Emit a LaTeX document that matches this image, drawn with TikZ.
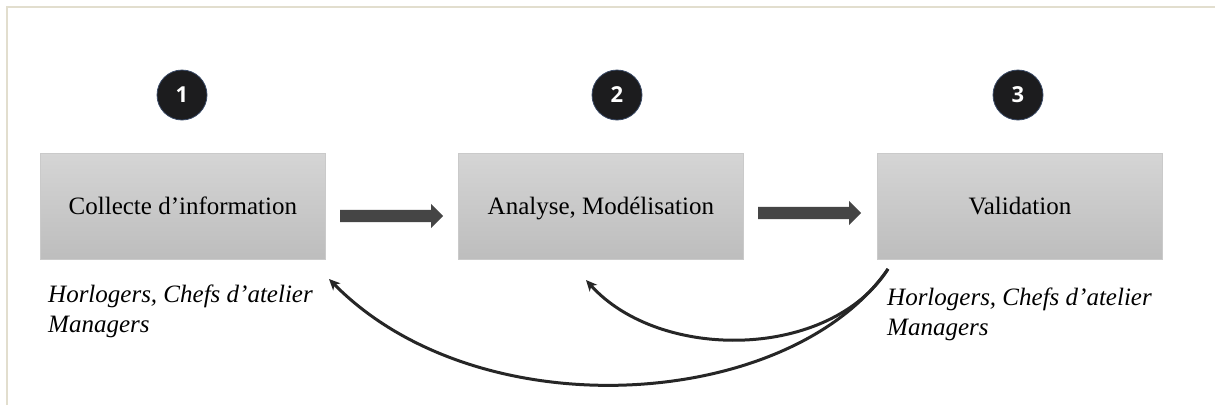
\documentclass[tikz,border=0pt]{standalone}
\usepackage{fontspec}
\setmainfont{Liberation Serif}
\newfontfamily\numfont{Open Sans}
\usetikzlibrary{arrows.meta,shapes.arrows}
\definecolor{framec}{HTML}{E2DECE}
\definecolor{boxtop}{HTML}{D5D5D5}
\definecolor{boxbot}{HTML}{BDBDBD}
\definecolor{boxline}{HTML}{CACACA}
\definecolor{arrowc}{HTML}{454545}
\definecolor{circfill}{HTML}{1C1C1E}
\definecolor{circline}{HTML}{3A4A66}
\tikzset{
  stepbox/.style={draw=boxline, line width=0.8pt, top color=boxtop, bottom color=boxbot,
    minimum width=285pt, minimum height=106pt, inner sep=0pt, anchor=north west,
    text height=21pt, text depth=5pt,
    font=\fontsize{25}{30}\selectfont},
  numcirc/.style={circle, fill=circfill, draw=circline, line width=0.8pt, minimum size=50pt,
    inner sep=0pt, text=white, font=\numfont\bfseries\fontsize{22}{26}\selectfont},
  who/.style={align=left, inner sep=0pt, anchor=base west,
    font=\itshape\fontsize{25}{30}\selectfont},
  flowarrow/.style={single arrow, fill=arrowc, draw=none, minimum height=103pt,
    text height=0pt, text depth=0pt, inner xsep=0pt, inner ysep=6pt,
    single arrow head extend=6pt, single arrow tip angle=90, shape border rotate=0},
  back/.style={line width=3pt, draw=black!85, -{Stealth[length=11pt,width=10pt,inset=3pt]}}
}
\begin{document}
\begin{tikzpicture}[x=1pt,y=-1pt]
\useasboundingbox (0,0) rectangle (1215,405);
\fill[white] (0,0) rectangle (1215,405);
\draw[framec, line width=2pt] (7,405) -- (7,7) -- (1215,7);

\node[stepbox] (b1) at (40,153) {Collecte d’information};
\node[stepbox] (b2) at (458,153) {Analyse, Modélisation};
\node[stepbox] (b3) at (877,153) {Validation};

\node[numcirc] (n1) at (182,95) {1};
\node[numcirc] (n2) at (617,95) {2};
\node[numcirc] (n3) at (1018,95) {3};

\node[flowarrow, anchor=west] (a1) at (340,216) {};
\node[flowarrow, anchor=west] (a2) at (758,213) {};

\node[who] (t1) at (48,332) {Horlogers, Chefs d’atelier\\Managers};
\node[who] (t3) at (887,335) {Horlogers, Chefs d’atelier\\Managers};

\coordinate (s) at (888,269);
\coordinate (e1) at (329,279);
\coordinate (e2) at (586,280);
\draw[back] (s) .. controls (830,360) and (660,362) .. (e2);
\draw[back] (s) .. controls (790,410) and (480,432) .. (e1);
\end{tikzpicture}
\end{document}
